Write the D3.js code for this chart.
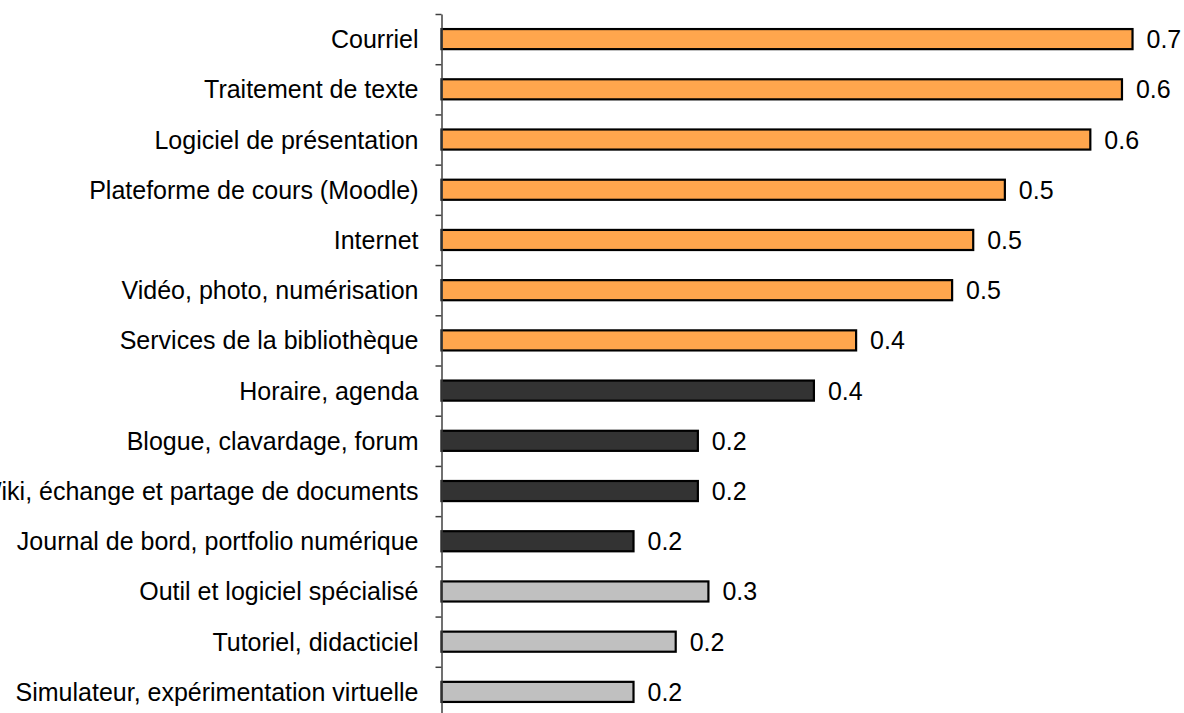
<!DOCTYPE html>
<html lang="fr">
<head>
<meta charset="utf-8">
<title>Utilisation des outils TIC</title>
<script src="https://d3js.org/d3.v7.min.js"></script>
<style>
body { margin: 0; background: #fff; }
svg { display: block; }
.cat { font-family: "Liberation Sans", Arial, sans-serif; font-size: 25px; fill: #000; }
.val { font-family: "Liberation Sans", Arial, sans-serif; font-size: 25px; fill: #000; }
.bars rect { stroke: #000; stroke-width: 2.2; }
.axis path, .axis line { stroke: #404040; stroke-width: 1.5; }
</style>
</head>
<body>
<svg width="1184" height="713"></svg>
<script>
// data (labels are rounded to one decimal)
var categories = [
  "Courriel",
  "Traitement de texte",
  "Logiciel de présentation",
  "Plateforme de cours (Moodle)",
  "Internet",
  "Vidéo, photo, numérisation",
  "Services de la bibliothèque",
  "Horaire, agenda",
  "Blogue, clavardage, forum",
  "Wiki, échange et partage de documents",
  "Journal de bord, portfolio numérique",
  "Outil et logiciel spécialisé",
  "Tutoriel, didacticiel",
  "Simulateur, expérimentation virtuelle"
];
var values = [0.655, 0.645, 0.615, 0.534, 0.504, 0.484, 0.393, 0.353, 0.243, 0.243, 0.182, 0.253, 0.222, 0.182];
var groups = ["bureautique", "bureautique", "bureautique", "bureautique", "bureautique", "bureautique", "bureautique",
              "communication", "communication", "communication", "communication",
              "specialise", "specialise", "specialise"];

var svg = d3.select("svg");

var axisX = 441.5, plotTop = 14, plotBottom = 717;

var x = d3.scaleLinear()
    .domain([0, 1])
    .range([axisX, axisX + 1055]);

var y = d3.scaleBand()
    .domain(categories)
    .range([plotTop, plotBottom])
    .paddingInner(0.6)
    .paddingOuter(0.3);

var color = d3.scaleOrdinal()
    .domain(["bureautique", "communication", "specialise"])
    .range(["#FFA64D", "#333333", "#C0C0C0"]);

var rows = categories.map(function(c, i) {
  return { cat: c, value: values[i], group: groups[i] };
});

// bars
svg.append("g")
    .attr("class", "bars")
  .selectAll("rect")
  .data(rows)
  .enter().append("rect")
    .attr("x", x(0))
    .attr("y", function(d) { return y(d.cat); })
    .attr("width", function(d) { return x(d.value) - x(0); })
    .attr("height", y.bandwidth())
    .attr("fill", function(d) { return color(d.group); });

// value labels
var fmt = d3.format(".1f");
svg.append("g")
  .selectAll("text")
  .data(rows)
  .enter().append("text")
    .attr("class", "val")
    .attr("x", function(d) { return x(d.value) + 14; })
    .attr("y", function(d) { return y(d.cat) + y.bandwidth() / 2; })
    .attr("dy", "0.36em")
    .text(function(d) { return fmt(d.value); });

// category labels
svg.append("g")
  .selectAll("text")
  .data(rows)
  .enter().append("text")
    .attr("class", "cat")
    .attr("x", axisX - 23)
    .attr("y", function(d) { return y(d.cat) + y.bandwidth() / 2; })
    .attr("dy", "0.36em")
    .attr("text-anchor", "end")
    .text(function(d) { return d.cat; });

// vertical axis with ticks between categories
var yIdx = d3.scaleLinear()
    .domain([0, categories.length])
    .range([plotTop, plotBottom]);

svg.append("g")
    .attr("class", "axis")
    .attr("transform", "translate(" + axisX + ",0)")
    .call(d3.axisLeft(yIdx)
      .tickValues(d3.range(categories.length + 1))
      .tickSize(6)
      .tickSizeOuter(0)
      .tickFormat(""));
</script>
</body>
</html>
